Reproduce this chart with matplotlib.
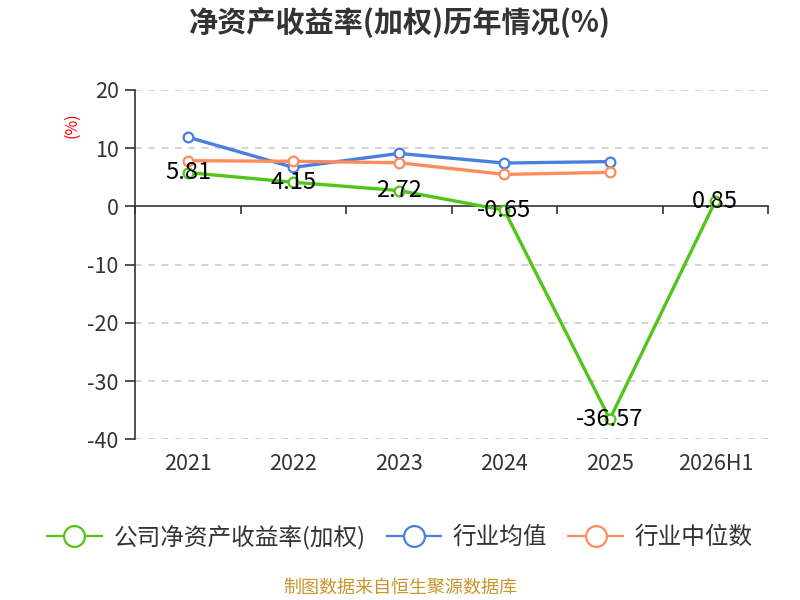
import matplotlib.pyplot as plt
from matplotlib.lines import Line2D
import numpy as np

plt.rcParams["font.family"] = ["Noto Sans CJK SC", "DejaVu Sans"]
plt.rcParams["axes.unicode_minus"] = False

years = ["2021", "2022", "2023", "2024", "2025", "2026H1"]
company_roe = [5.81, 4.15, 2.72, -0.65, -36.57, 0.85]
industry_mean = [11.9, 6.7, 9.1, 7.45, 7.7]
industry_median = [7.85, 7.75, 7.5, 5.5, 5.85]

series_names = ["公司净资产收益率(加权)", "行业均值", "行业中位数"]

green = "#52c41a"
blue = "#4a7fe0"
orange = "#ff8c5a"

fig = plt.figure(figsize=(8, 6), dpi=100)
ax = fig.add_axes([0.169, 0.268, 0.791, 0.582])

x = np.arange(len(years))
mk = dict(marker="o", markersize=7, markerfacecolor="white", markeredgewidth=1.6)
ax.plot(x[:len(industry_mean)], industry_mean, color=blue, lw=2.4,
        markeredgecolor=blue, zorder=3, **mk)
ax.plot(x[:len(industry_median)], industry_median, color=orange, lw=2.4,
        markeredgecolor=orange, zorder=3, **mk)
ax.plot(x, company_roe, color=green, lw=2.4, markeredgecolor=green,
        zorder=4, **mk)

for xi, v in zip(x, company_roe):
    ax.text(xi, v, f"{v:.2f}", ha="center", va="center", fontsize=17,
            color="black", zorder=5)

ax.set_xlim(-0.5, len(years) - 0.5)
ax.set_ylim(-40, 20)
ax.set_yticks([20, 10, 0, -10, -20, -30, -40])
ax.tick_params(axis="y", labelsize=15.5, colors="#333333", length=7, width=1.2,
               pad=5)
for yv in [20, 10, -10, -20, -30, -40]:
    ax.axhline(yv, color="#cccccc", lw=1.2, ls=(0, (4, 4)), zorder=1)

for s in ["top", "right"]:
    ax.spines[s].set_visible(False)
ax.spines["left"].set_color("#333333")
ax.spines["left"].set_linewidth(1.2)
ax.spines["bottom"].set_position(("data", 0))
ax.spines["bottom"].set_color("#333333")
ax.spines["bottom"].set_linewidth(1.2)
ax.set_xticks(np.arange(len(years) + 1) - 0.5)
ax.tick_params(axis="x", labelbottom=False, length=6, width=1.2,
               colors="#333333", direction="out")

sec = ax.secondary_xaxis("bottom")
sec.set_xticks(x)
sec.set_xticklabels(years)
sec.tick_params(length=0, labelsize=15.5, colors="#333333", pad=10)
sec.spines["bottom"].set_visible(False)

ax.text(-0.1, 0.9, "(%)", transform=ax.transAxes, rotation=90,
        color="red", fontsize=11.5, ha="center", va="center")

fig.text(0.5, 0.962, "净资产收益率(加权)历年情况(%)", ha="center", va="center",
         fontsize=21, fontweight="bold", color="#333333")

handles = [
    Line2D([], [], color=c, lw=1.6, marker="o", markersize=15,
           markerfacecolor="white", markeredgecolor=c, markeredgewidth=1.6)
    for c in (green, blue, orange)
]
leg = fig.legend(handles, series_names, loc="center",
                 bbox_to_anchor=(0.5, 0.105), ncol=3, frameon=False,
                 fontsize=17, handlelength=2.3, columnspacing=0.9,
                 handletextpad=0.5)
for t in leg.get_texts():
    t.set_color("#333333")

fig.text(0.5, 0.02, "制图数据来自恒生聚源数据库", ha="center", va="center",
         fontsize=13, color="#c8962c")

fig.savefig("out.png", dpi=100)
